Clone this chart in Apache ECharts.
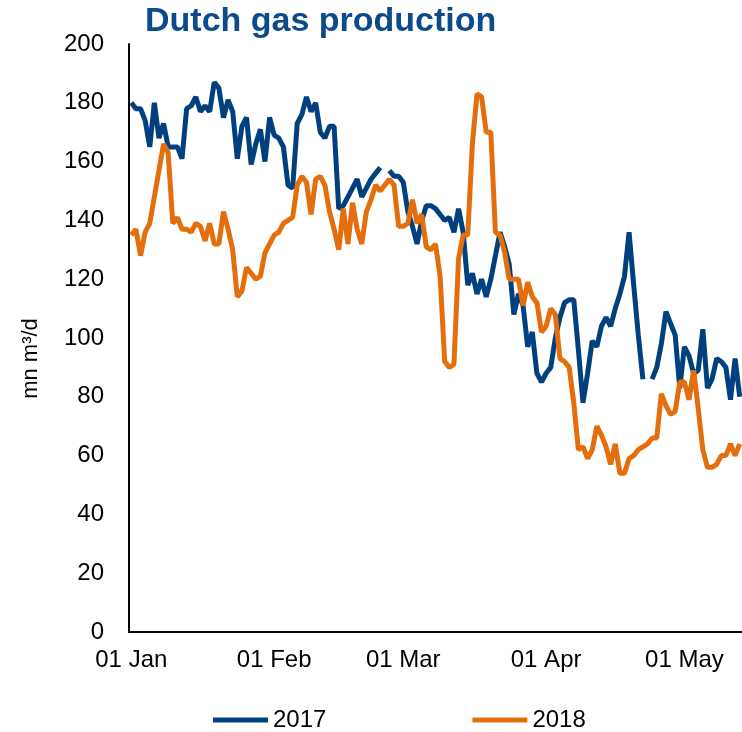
<!DOCTYPE html>
<html>
<head>
<meta charset="utf-8">
<script src="https://cdn.jsdelivr.net/npm/echarts@6/dist/echarts.min.js"></script>
<style>
  html, body { margin: 0; padding: 0; background: #fff; }
  #chart { width: 742px; height: 732px; }
</style>
</head>
<body>
<div id="chart"></div>
<script>
// daily axis, 01 Jan .. 13 May
const monthNames = ['Jan', 'Feb', 'Mar', 'Apr', 'May'];
const monthDays = [31, 28, 31, 30, 13];

const yTicks = [0, 20, 40, 60, 80, 100, 120, 140, 160, 180, 200];

const prod2017 = [
  180, 178, 178, 174, 165, 180, 168, 173, 165, 165,
  165, 161, 178, 179, 182, 177, 179, 177, 187, 185,
  175, 181, 177, 161, 172, 175, 159, 166, 171, 160,
  175, 169, 168, 165, 152, 151, 173, 176, 182, 177,
  180, 170, 168, 172, 172, 144, 145, 148, 151, 154,
  148, 151, 154, 156, 158, null, 157, 155, 155, 153,
  143, 138, 132, 140, 145, 145, 144, 142, 140, 141,
  136, 144, 136, 118, 122, 115, 120, 114, 120, 128,
  136, 131, 125, 108, 115, 111, 97, 102, 88, 85,
  88, 90, 100, 107, 112, 113, 113, 96, 78, 88,
  99, 97, 104, 107, 104, 110, 115, 121, 136, 118,
  101, 86, null, 86, 90, 98, 109, 105, 101, 83,
  97, 94, 88, 89, 103, 83, 86, 93, 92, 90,
  79, 93, 80
];

const prod2018 = [
  135, 137, 128, 136, 139, 148, 157, 166, 163, 139,
  141, 137, 137, 136, 139, 138, 133, 139, 132, 132,
  143, 137, 130, 114, 116, 124, 122, 120, 121, 129,
  132, 135, 136, 139, 140, 141, 152, 155, 153, 142,
  154, 155, 152, 143, 137, 130, 144, 132, 146, 137,
  132, 143, 147, 152, 150, 152, 154, 152, 138, 138,
  139, 147, 139, 142, 131, 130, 132, 121, 92, 90,
  91, 127, 135, 135, 166, 183, 182, 170, 170, 136,
  135, 129, 120, 120, 120, 111, 119, 114, 112, 102,
  104, 110, 108, 93, 92, 90, 78, 62, 63, 59,
  62, 70, 67, 63, 57, 64, 54, 54, 59, 60,
  62, 63, 64, 66, 66, 81, 77, 74, 75, 85,
  85, 79, 89, 76, 62, 56, 56, 57, 60, 60,
  64, 60, 64
];

const days = [];
monthNames.forEach((m, i) => {
  for (let d = 1; d <= monthDays[i]; d++) {
    days.push(String(d).padStart(2, '0') + ' ' + m);
  }
});

const blue = '#00407f';
const orange = '#e56e0c';
const font = 'Arial, "Liberation Sans", sans-serif';

const chart = echarts.init(document.getElementById('chart'));

chart.setOption({
  backgroundColor: '#fff',
  animation: false,
  title: {
    text: 'Dutch gas production',
    left: 140,
    top: 0,
    textStyle: {
      color: '#0b4a8b',
      fontSize: 34,
      fontWeight: 'bold',
      fontFamily: font
    }
  },
  grid: {
    left: 129,
    right: 0,
    top: 44,
    bottom: 100
  },
  legend: {
    left: 208,
    top: 703,
    itemGap: 146,
    itemWidth: 55,
    itemHeight: 5,
    icon: 'rect',
    textStyle: {
      color: '#000',
      fontSize: 24,
      fontFamily: font
    },
    data: ['2017', '2018']
  },
  xAxis: {
    type: 'category',
    data: days,
    boundaryGap: true,
    axisLine: {
      lineStyle: { color: '#000', width: 2 }
    },
    axisTick: { show: false },
    splitLine: { show: false },
    axisLabel: {
      color: '#000',
      fontSize: 24,
      fontFamily: font,
      margin: 16,
      interval: (idx, value) => value.startsWith('01 ')
    }
  },
  yAxis: {
    type: 'value',
    min: yTicks[0],
    max: yTicks[yTicks.length - 1],
    interval: yTicks[1] - yTicks[0],
    name: 'mn m³/d',
    nameLocation: 'middle',
    nameGap: 87,
    nameRotate: 90,
    nameTextStyle: {
      color: '#000',
      fontSize: 22,
      fontFamily: font,
      padding: [0, 41, 0, 0]
    },
    axisLine: {
      show: true,
      lineStyle: { color: '#000', width: 2 }
    },
    axisTick: { show: false },
    splitLine: { show: false },
    axisLabel: {
      color: '#000',
      fontSize: 24,
      fontFamily: font,
      margin: 25
    }
  },
  series: [
    {
      name: '2017',
      type: 'line',
      data: prod2017,
      symbol: 'none',
      connectNulls: false,
      color: blue,
      lineStyle: { color: blue, width: 5 }
    },
    {
      name: '2018',
      type: 'line',
      data: prod2018,
      symbol: 'none',
      connectNulls: false,
      color: orange,
      lineStyle: { color: orange, width: 5 }
    }
  ]
});
</script>
</body>
</html>
